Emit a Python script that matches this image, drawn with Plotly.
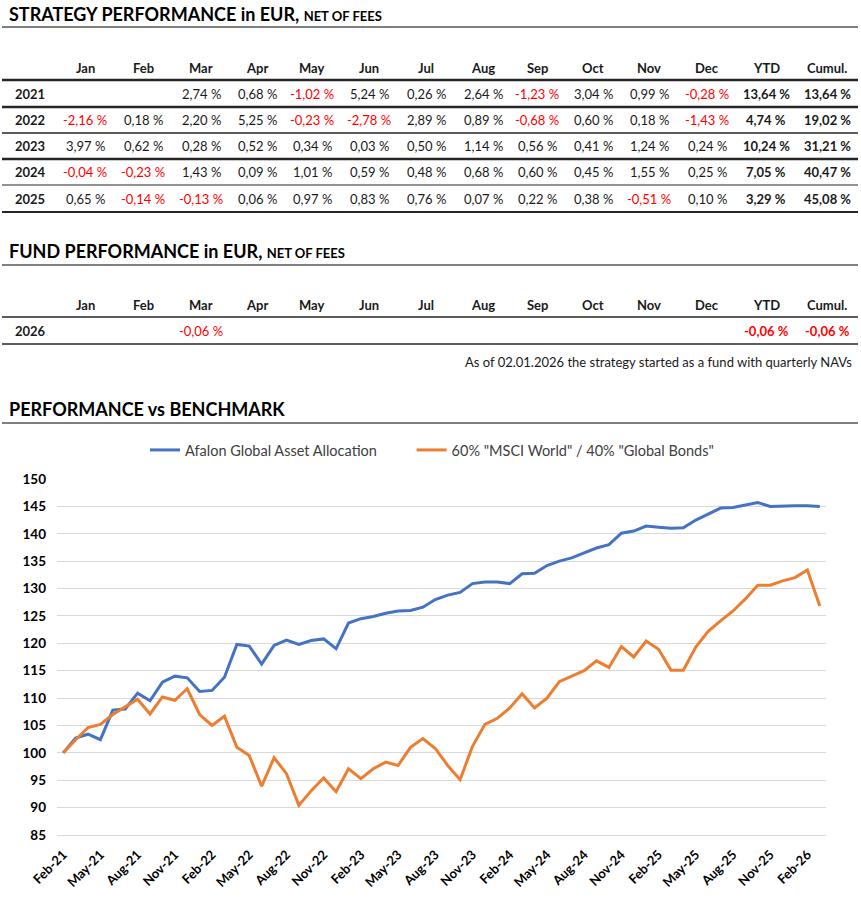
import pandas as pd
import plotly.graph_objects as go

W, H = 861, 898
FONT = "Lato, 'Open Sans', sans-serif"
INK = "#1a1a1a"
RED = "#FF0000"

# ---- table data -------------------------------------------------------------
col_labels = ["Jan", "Feb", "Mar", "Apr", "May", "Jun", "Jul", "Aug", "Sep",
              "Oct", "Nov", "Dec", "YTD", "Cumul."]

strategy_years = ["2021", "2022", "2023", "2024", "2025"]
strategy_2021 = [None, None, 2.74, 0.68, -1.02, 5.24, 0.26, 2.64, -1.23, 3.04, 0.99, -0.28, 13.64, 13.64]
strategy_2022 = [-2.16, 0.18, 2.20, 5.25, -0.23, -2.78, 2.89, 0.89, -0.68, 0.60, 0.18, -1.43, 4.74, 19.02]
strategy_2023 = [3.97, 0.62, 0.28, 0.52, 0.34, 0.03, 0.50, 1.14, 0.56, 0.41, 1.24, 0.24, 10.24, 31.21]
strategy_2024 = [-0.04, -0.23, 1.43, 0.09, 1.01, 0.59, 0.48, 0.68, 0.60, 0.45, 1.55, 0.25, 7.05, 40.47]
strategy_2025 = [0.65, -0.14, -0.13, 0.06, 0.97, 0.83, 0.76, 0.07, 0.22, 0.38, -0.51, 0.10, 3.29, 45.08]
strategy_rows = [strategy_2021, strategy_2022, strategy_2023, strategy_2024, strategy_2025]

fund_years = ["2026"]
fund_2026 = [None, None, -0.06, None, None, None, None, None, None, None, None, None, -0.06, -0.06]
fund_rows = [fund_2026]

fund_note = "As of 02.01.2026 the strategy started as a fund with quarterly NAVs"

# ---- chart data (index, Feb-21 = 100) ---------------------------------------
months = list(pd.date_range("2021-02-01", "2026-03-01", freq="MS").strftime("%b-%y"))
afalon = [100.0, 102.7, 103.4, 102.4, 107.8, 108.0, 110.9, 109.5, 112.9, 114.0, 113.7,
          111.2, 111.4, 113.8, 119.8, 119.5, 116.2, 119.6, 120.6, 119.8, 120.5, 120.8, 119.0,
          123.7, 124.5, 124.9, 125.5, 125.9, 126.0, 126.6, 128.0, 128.8, 129.3, 130.9, 131.2,
          131.2, 130.9, 132.7, 132.8, 134.2, 135.0, 135.6, 136.5, 137.4, 138.0, 140.1, 140.5,
          141.4, 141.2, 141.0, 141.1, 142.5, 143.6, 144.7, 144.8, 145.2, 145.7, 145.0, 145.1,
          145.1, 145.1, 145.0]
benchmark = [100.0, 102.4, 104.6, 105.2, 107.0, 108.4, 109.8, 107.1, 110.2, 109.6, 111.7,
             107.0, 105.0, 106.7, 101.0, 99.5, 93.9, 99.1, 96.2, 90.4, 93.1, 95.4, 92.9,
             97.1, 95.3, 97.1, 98.3, 97.7, 101.0, 102.6, 100.8, 97.7, 95.1, 101.2, 105.2,
             106.3, 108.2, 110.8, 108.2, 110.0, 113.0, 114.0, 115.0, 116.8, 115.6, 119.4,
             117.5, 120.4, 118.9, 115.1, 115.1, 119.3, 122.2, 124.1, 125.9, 128.1, 130.6,
             130.6, 131.4, 132.0, 133.4, 126.8]
x_ticks = months[::3]
y_ticks = list(range(85, 151, 5))


def px(x):
    return x / W


def py(y):
    return 1 - y / H


def fmt(v):
    return "" if v is None else f"{v:.2f}".replace(".", ",") + " %"


col_x = [85, 143, 201, 257, 312, 369, 426, 483, 537, 593, 649, 707, 766, 827]

annotations = []
shapes = []


def add_text(x, y, text, size=13, bold=False, color=INK, anchor="center"):
    annotations.append(dict(
        x=px(x), y=py(y), xref="paper", yref="paper", showarrow=False,
        text=f"<b>{text}</b>" if bold else text, xanchor=anchor, yanchor="middle",
        font=dict(family=FONT, size=size, color=color)))


def add_rule(y, width=1, color="#262626"):
    shapes.append(dict(type="line", xref="paper", yref="paper",
                       x0=px(2), x1=px(858), y0=py(y), y1=py(y),
                       line=dict(color=color, width=width)))


def add_title(y, main, small=None):
    text = main if small is None else f"{main} <span style='font-size:13px'>{small}</span>"
    add_text(7, y, text, size=18, bold=True, color="#000000", anchor="left")


def add_table(header_y, row_ys, years, rows):
    for cx, lab in zip(col_x, col_labels):
        add_text(cx, header_y, lab, bold=True)
    for ry, yr, vals in zip(row_ys, years, rows):
        add_text(30, ry, yr, bold=True)
        for i, (cx, v) in enumerate(zip(col_x, vals)):
            if v is None:
                continue
            add_text(cx, ry, fmt(v), bold=i >= 12, color=RED if v < 0 else INK)


# strategy block
add_title(14, "STRATEGY PERFORMANCE in EUR,", "NET OF FEES")
add_rule(27, 1, "#000000")
add_table(68, [94, 120, 146, 172, 199], strategy_years, strategy_rows)
for y, w in [(80, 2.5), (107, 2.5), (133, 1.5), (159, 2.5), (185, 1.2), (212, 2)]:
    add_rule(y, w)

# fund block
add_title(251, "FUND PERFORMANCE in EUR,", "NET OF FEES")
add_rule(265, 1, "#000000")
add_table(305, [331], fund_years, fund_rows)
add_rule(317, 1.5)
add_rule(344, 1.5)
add_text(854, 362, fund_note, anchor="right")

# chart title
add_title(409, "PERFORMANCE vs BENCHMARK")
add_rule(423, 1, "#000000")

fig = go.Figure()
# trailing nbsp's widen the gap between the two legend entries, like the original
fig.add_trace(go.Scatter(x=months, y=afalon, mode="lines",
                         name="Afalon Global Asset Allocation" + "\u00a0" * 8,
                         line=dict(color="#4472C4", width=3)))
fig.add_trace(go.Scatter(x=months, y=benchmark, mode="lines",
                         name='60% "MSCI World" / 40% "Global Bonds"',
                         line=dict(color="#ED7D31", width=3)))

fig.update_layout(
    width=W, height=H, autosize=False,
    margin=dict(l=0, r=0, t=0, b=0, autoexpand=False),
    paper_bgcolor="white", plot_bgcolor="white",
    font=dict(family=FONT, color=INK),
    annotations=annotations, shapes=shapes,
    showlegend=True,
    legend=dict(orientation="h", x=px(432), xanchor="center", y=py(450), yanchor="middle",
                font=dict(family=FONT, size=14.5, color="#404040"), bgcolor="rgba(0,0,0,0)"),
    xaxis=dict(type="category", domain=[px(57), px(826)], range=[-0.5, len(months) - 0.5],
               automargin=False,
               tickmode="array", tickvals=x_ticks, ticktext=[f"<b>{t}</b>" for t in x_ticks],
               tickangle=-45, showgrid=False, zeroline=False, showline=True,
               linecolor="#D9D9D9", linewidth=1, ticks="", ticklabelstandoff=6,
               tickfont=dict(family=FONT, size=13, color="#000000")),
    yaxis=dict(domain=[py(835), py(479)], range=[85, 150], automargin=False,
               tickmode="array", tickvals=y_ticks, ticktext=[f"<b>{v}</b>" for v in y_ticks],
               showgrid=True, gridcolor="#D9D9D9", gridwidth=1, zeroline=False,
               ticks="", ticklabelstandoff=10,
               tickfont=dict(family=FONT, size=13.5, color="#000000")),
)

fig.write_html("out.html", config={"displayModeBar": False},
               post_script="document.body.style.margin='0';")
